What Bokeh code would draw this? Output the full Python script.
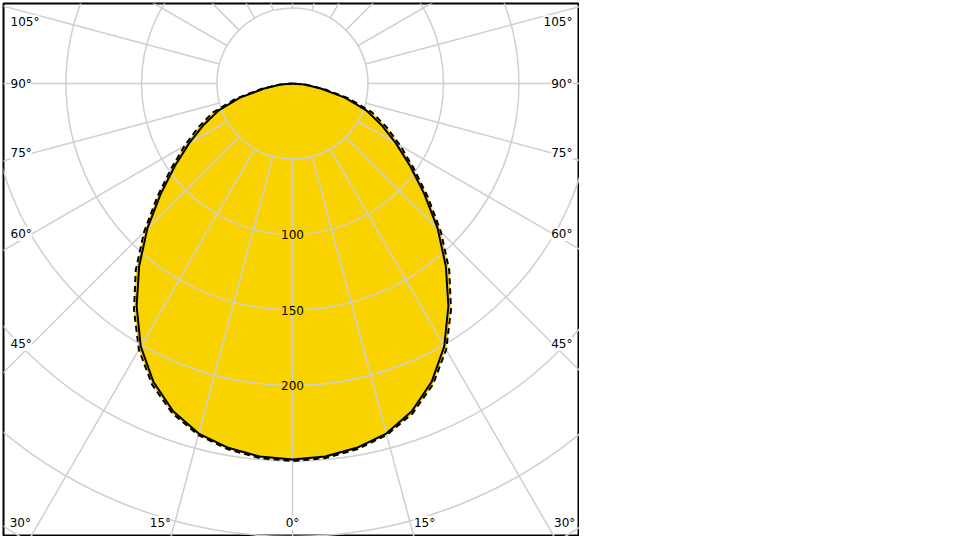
import numpy as np
from bokeh.plotting import figure
from bokeh.core.properties import value
from bokeh.embed import file_html
from bokeh.resources import INLINE

# ---------------- data ----------------
gamma_deg = [0, 5, 10, 15, 20, 25, 30, 35, 40, 45, 50, 55, 60, 65, 70, 75, 80, 85, 90]
c0_c180 = [249, 248, 245, 240, 231, 218, 201, 180, 158, 136, 114, 95, 79, 65, 52, 36, 19, 8, 0]
c90_c270 = [250, 249, 246, 241, 232.5, 220, 203.5, 183, 161.5, 139, 117, 98, 82.5, 69, 56, 39, 21.5, 9, 0]
ring_values = [50, 100, 150, 200, 250, 300, 350, 400]
ring_label_values = [100, 150, 200]
ray_angles = list(range(0, 360, 15))
side_label_angles = [45, 60, 75, 90, 105]
bottom_label_angles = [0, 15, 30]

# ---------------- layout ----------------
S = 1.51            # pixels per cd
FW, FH = 576, 533   # frame size in px
CXP, CYP = 289, 80  # polar centre inside frame (px from left / top)
YELLOW = "#F9D300"
GRID = "#CFCFCF"
FONT = "DejaVu Sans"
FSIZE = "12px"

x0, x1 = -CXP / S, (FW - CXP) / S
y0, y1 = -(FH - CYP) / S, CYP / S

p = figure(frame_width=FW, frame_height=FH, x_range=(x0, x1), y_range=(y0, y1),
           output_backend="svg", toolbar_location=None,
           x_axis_location=None, y_axis_location=None,
           min_border_left=3, min_border_top=3, min_border_right=0, min_border_bottom=0)
p.grid.visible = False
p.outline_line_color = "black"
p.outline_line_width = 2
p.background_fill_color = "white"
p.border_fill_color = "white"


def curve_xy(vals):
    a = np.radians(np.array(gamma_deg, float))
    v = np.array(vals, float)
    th = np.concatenate([-a[::-1], a[1:]])
    r = np.concatenate([v[::-1], v[1:]])
    return r * np.sin(th), -r * np.cos(th)


xs_d, ys_d = curve_xy(c90_c270)
xs_s, ys_s = curve_xy(c0_c180)

# fills
p.patch(xs_d, ys_d, fill_color=YELLOW, line_color=None)
p.patch(xs_s, ys_s, fill_color=YELLOW, line_color=None)

# grid rings
p.circle(x=[0] * len(ring_values), y=[0] * len(ring_values), radius=ring_values,
         fill_color=None, line_color=GRID, line_width=1.5)
# rays from r=50 outward
r_in, r_out = ring_values[0], 800
rx, ry = [], []
for a in ray_angles:
    t = np.radians(a)
    rx.append([r_in * np.sin(t), r_out * np.sin(t)])
    ry.append([-r_in * np.cos(t), -r_out * np.cos(t)])
p.multi_line(rx, ry, line_color=GRID, line_width=1.5)

# curves
p.line(xs_s, ys_s, line_color="black", line_width=2)
p.line(xs_d, ys_d, line_color="black", line_width=2, line_dash="6 4")

# radial labels
p.text(x=[0] * len(ring_label_values), y=[-v for v in ring_label_values],
       text=[str(v) for v in ring_label_values],
       text_align="center", text_baseline="middle",
       text_font=value(FONT), text_font_size=FSIZE, text_color="black",
       background_fill_color=YELLOW, background_fill_alpha=1.0)

# angle labels on the sides
inner = (31.5 - (3 + CXP)) / S          # data x where the label meets the ray (left)
left_x = (10 - (3 + CXP)) / S
right_x = (572 - (3 + CXP)) / S
top_limit = y1 - 18.7 / S
lx, ly, lt, rxl, ryl = [], [], [], [], []
for a in side_label_angles:
    t = np.radians(a)
    yy = -abs(inner) * np.cos(t) / np.sin(t)
    yy = min(yy, top_limit)
    lx.append(left_x); ly.append(yy); lt.append(f"{a}°")
    rxl.append(right_x); ryl.append(yy)
common = dict(text_font=value(FONT), text_font_size=FSIZE, text_color="black",
              text_baseline="middle", background_fill_color="white", background_fill_alpha=1.0)
p.text(x=lx, y=ly, text=lt, text_align="left", **common)
p.text(x=rxl, y=ryl, text=lt, text_align="right", **common)

# bottom angle labels
y_lab = -(522.3 - (3 + CYP)) / S
y_edge = y0
for a in bottom_label_angles:
    t = np.radians(a)
    xx = abs(y_edge) * np.tan(t)
    if a == 0:
        p.text(x=[0], y=[y_lab], text=["0°"], text_align="center", **common)
    else:
        p.text(x=[-xx], y=[y_lab], text=[f"{a}°"], text_align="right", **common)
        p.text(x=[xx], y=[y_lab], text=[f"{a}°"], text_align="left", **common)

open("out.html", "w").write(file_html(p, INLINE))
